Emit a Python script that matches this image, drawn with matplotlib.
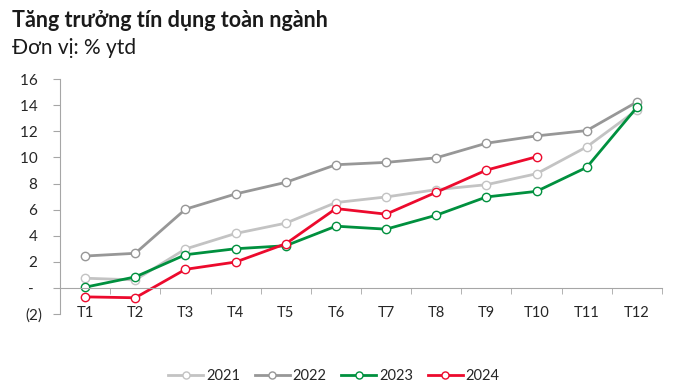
import numpy as np
from matplotlib import pyplot as plt
from matplotlib.ticker import FuncFormatter

# data
months = ["T1", "T2", "T3", "T4", "T5", "T6", "T7", "T8", "T9", "T10", "T11", "T12"]
y2021 = [0.74, 0.61, 2.98, 4.17, 4.96, 6.54, 6.97, 7.53, 7.91, 8.75, 10.81, 13.64]
y2022 = [2.44, 2.65, 6.03, 7.20, 8.09, 9.44, 9.62, 9.97, 11.09, 11.65, 12.06, 14.25]
y2023 = [0.05, 0.84, 2.54, 3.00, 3.23, 4.73, 4.50, 5.57, 6.97, 7.40, 9.24, 13.84]
y2024 = [-0.69, -0.76, 1.42, 1.98, 3.38, 6.08, 5.65, 7.33, 9.03, 10.05]

series = [("2021", y2021, "#c3c3c3"),
          ("2022", y2022, "#979797"),
          ("2023", y2023, "#00903e"),
          ("2024", y2024, "#ec0a2d")]

plt.rcParams["font.family"] = ["Lato", "DejaVu Sans"]


def ylab(v, pos):
    # accounting style labels
    if v == 0:
        return "-  "
    if v < 0:
        return "(%d)" % abs(v)
    return "%d " % v


fig = plt.figure(figsize=(6.86, 3.9), dpi=100)
ax = fig.add_axes([0.0875, 0.195, 0.8775, 0.602])

x = np.arange(len(months))
for name, vals, col in series:
    ax.plot(x[:len(vals)], vals, color=col, lw=2.0, marker="o", ms=6,
            mfc="white", mec=col, mew=1.0, label=name)

ax.set_xlim(-0.5, 11.5)
ax.set_ylim(-2, 16)
ax.set_yticks(np.arange(-2, 17, 2))
ax.yaxis.set_major_formatter(FuncFormatter(ylab))

axis_col = "#a6a6a6"
for s in ["top", "right"]:
    ax.spines[s].set_visible(False)
ax.spines["left"].set_color(axis_col)
ax.spines["bottom"].set_color(axis_col)
ax.spines["bottom"].set_position(("data", 0))

ax.set_xticks(x)
ax.set_xticklabels(months)
ax.set_xticks(np.arange(-0.5, 12, 1), minor=True)
ax.tick_params(axis="x", which="major", length=0, pad=13, labelsize=10.5,
               labelcolor="#262626")
ax.tick_params(axis="x", which="minor", length=4, color=axis_col)
ax.tick_params(axis="y", length=5, color=axis_col, labelsize=11,
               labelcolor="#262626", pad=8)

fig.text(0.018, 0.948, "Tăng trưởng tín dụng toàn ngành", fontsize=15.5,
         fontweight="bold", va="center", color="#1a1a1a")
fig.text(0.018, 0.877, "Đơn vị: % ytd", fontsize=15, va="center",
         color="#1a1a1a")

fig.legend(loc="center", bbox_to_anchor=(0.487, 0.035), ncol=4, frameon=False,
           fontsize=10.5, handlelength=2.4, columnspacing=1.0,
           handletextpad=0.2, labelcolor="#262626", markerscale=0.85)

fig.savefig("out.png", dpi=100)
